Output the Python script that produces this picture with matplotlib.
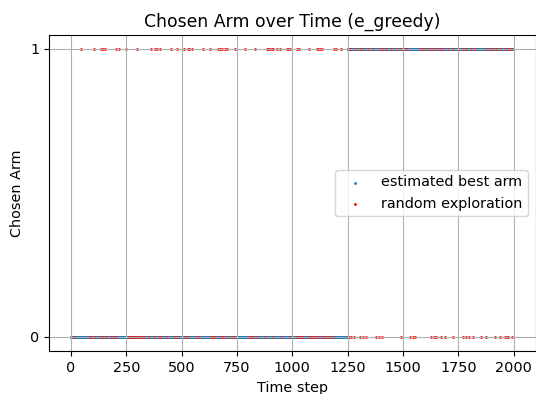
import numpy as np
import matplotlib
matplotlib.use('Agg')
import matplotlib.pyplot as plt

# steps 0..1999, the estimated best arm switches from 0 to 1 around step 1250
n_steps = 2000
switch_step = 1250

# exploration steps (red)
explore_arm1_early = [45, 104, 135, 145, 155, 205, 215, 250, 298, 361, 380, 387, 404, 450, 480,
                      512, 528, 535, 545, 598, 628, 665, 672, 683, 695, 703, 742, 788, 833, 885,
                      892, 900, 907, 913, 930, 945, 975, 982, 989, 1020, 1032, 1076, 1110, 1118,
                      1125, 1132, 1186, 1195, 1222]
explore_arm0_early = [12, 80, 92, 110, 130, 145, 158, 180, 192, 205, 262, 270, 280, 290, 300,
                      310, 320, 330, 350, 375, 395, 408, 432, 465, 477, 515, 530, 568, 580, 632,
                      642, 652, 678, 688, 703, 728, 738, 802, 812, 822, 840, 876, 910, 950, 988,
                      1020, 1030, 1040, 1050, 1075, 1085, 1095, 1105, 1115, 1135, 1145, 1155,
                      1165, 1184]
explore_arm1_late = [1260, 1282, 1305, 1320, 1342, 1365, 1395, 1410, 1425, 1448, 1470, 1485,
                     1508, 1516, 1576, 1591, 1606, 1621, 1636, 1651, 1666, 1681, 1704, 1726,
                     1749, 1771, 1786, 1809, 1824, 1869, 1892, 1907, 1922, 1937, 1959, 1975, 1990]
explore_arm0_late = [1255, 1265, 1280, 1305, 1318, 1333, 1378, 1390, 1405, 1493, 1532, 1545,
                     1553, 1627, 1640, 1650, 1673, 1688, 1726, 1773, 1785, 1800, 1815, 1854,
                     1877, 1914, 1937, 1960, 1968, 1975, 1994]

explore_t = np.array(explore_arm1_early + explore_arm0_early + explore_arm1_late + explore_arm0_late)
explore_arm = np.array([1] * len(explore_arm1_early) + [0] * len(explore_arm0_early)
                       + [1] * len(explore_arm1_late) + [0] * len(explore_arm0_late))

# every other step picks the estimated best arm
steps = np.arange(n_steps)
best_t = steps[~np.isin(steps, explore_t)]
best_arm = np.where(best_t < switch_step, 0, 1)

plt.rcParams['font.size'] = 10.35

fig = plt.figure(figsize=(5.36, 3.94), dpi=100)
ax = fig.add_axes([49 / 536, 1 - 351.4 / 394, 486.5 / 536, 316.8 / 394])

ax.scatter(best_t, best_arm, s=1, color='tab:blue', label='estimated best arm')
ax.scatter(explore_t, explore_arm, s=1, color='red', label='random exploration')

ax.set_title('Chosen Arm over Time (e_greedy)')
ax.set_xlabel('Time step')
ax.set_ylabel('Chosen Arm')
ax.set_yticks([0, 1])
ax.grid(True)
ax.legend(loc='center right')

fig.savefig('out.png', dpi=100)
